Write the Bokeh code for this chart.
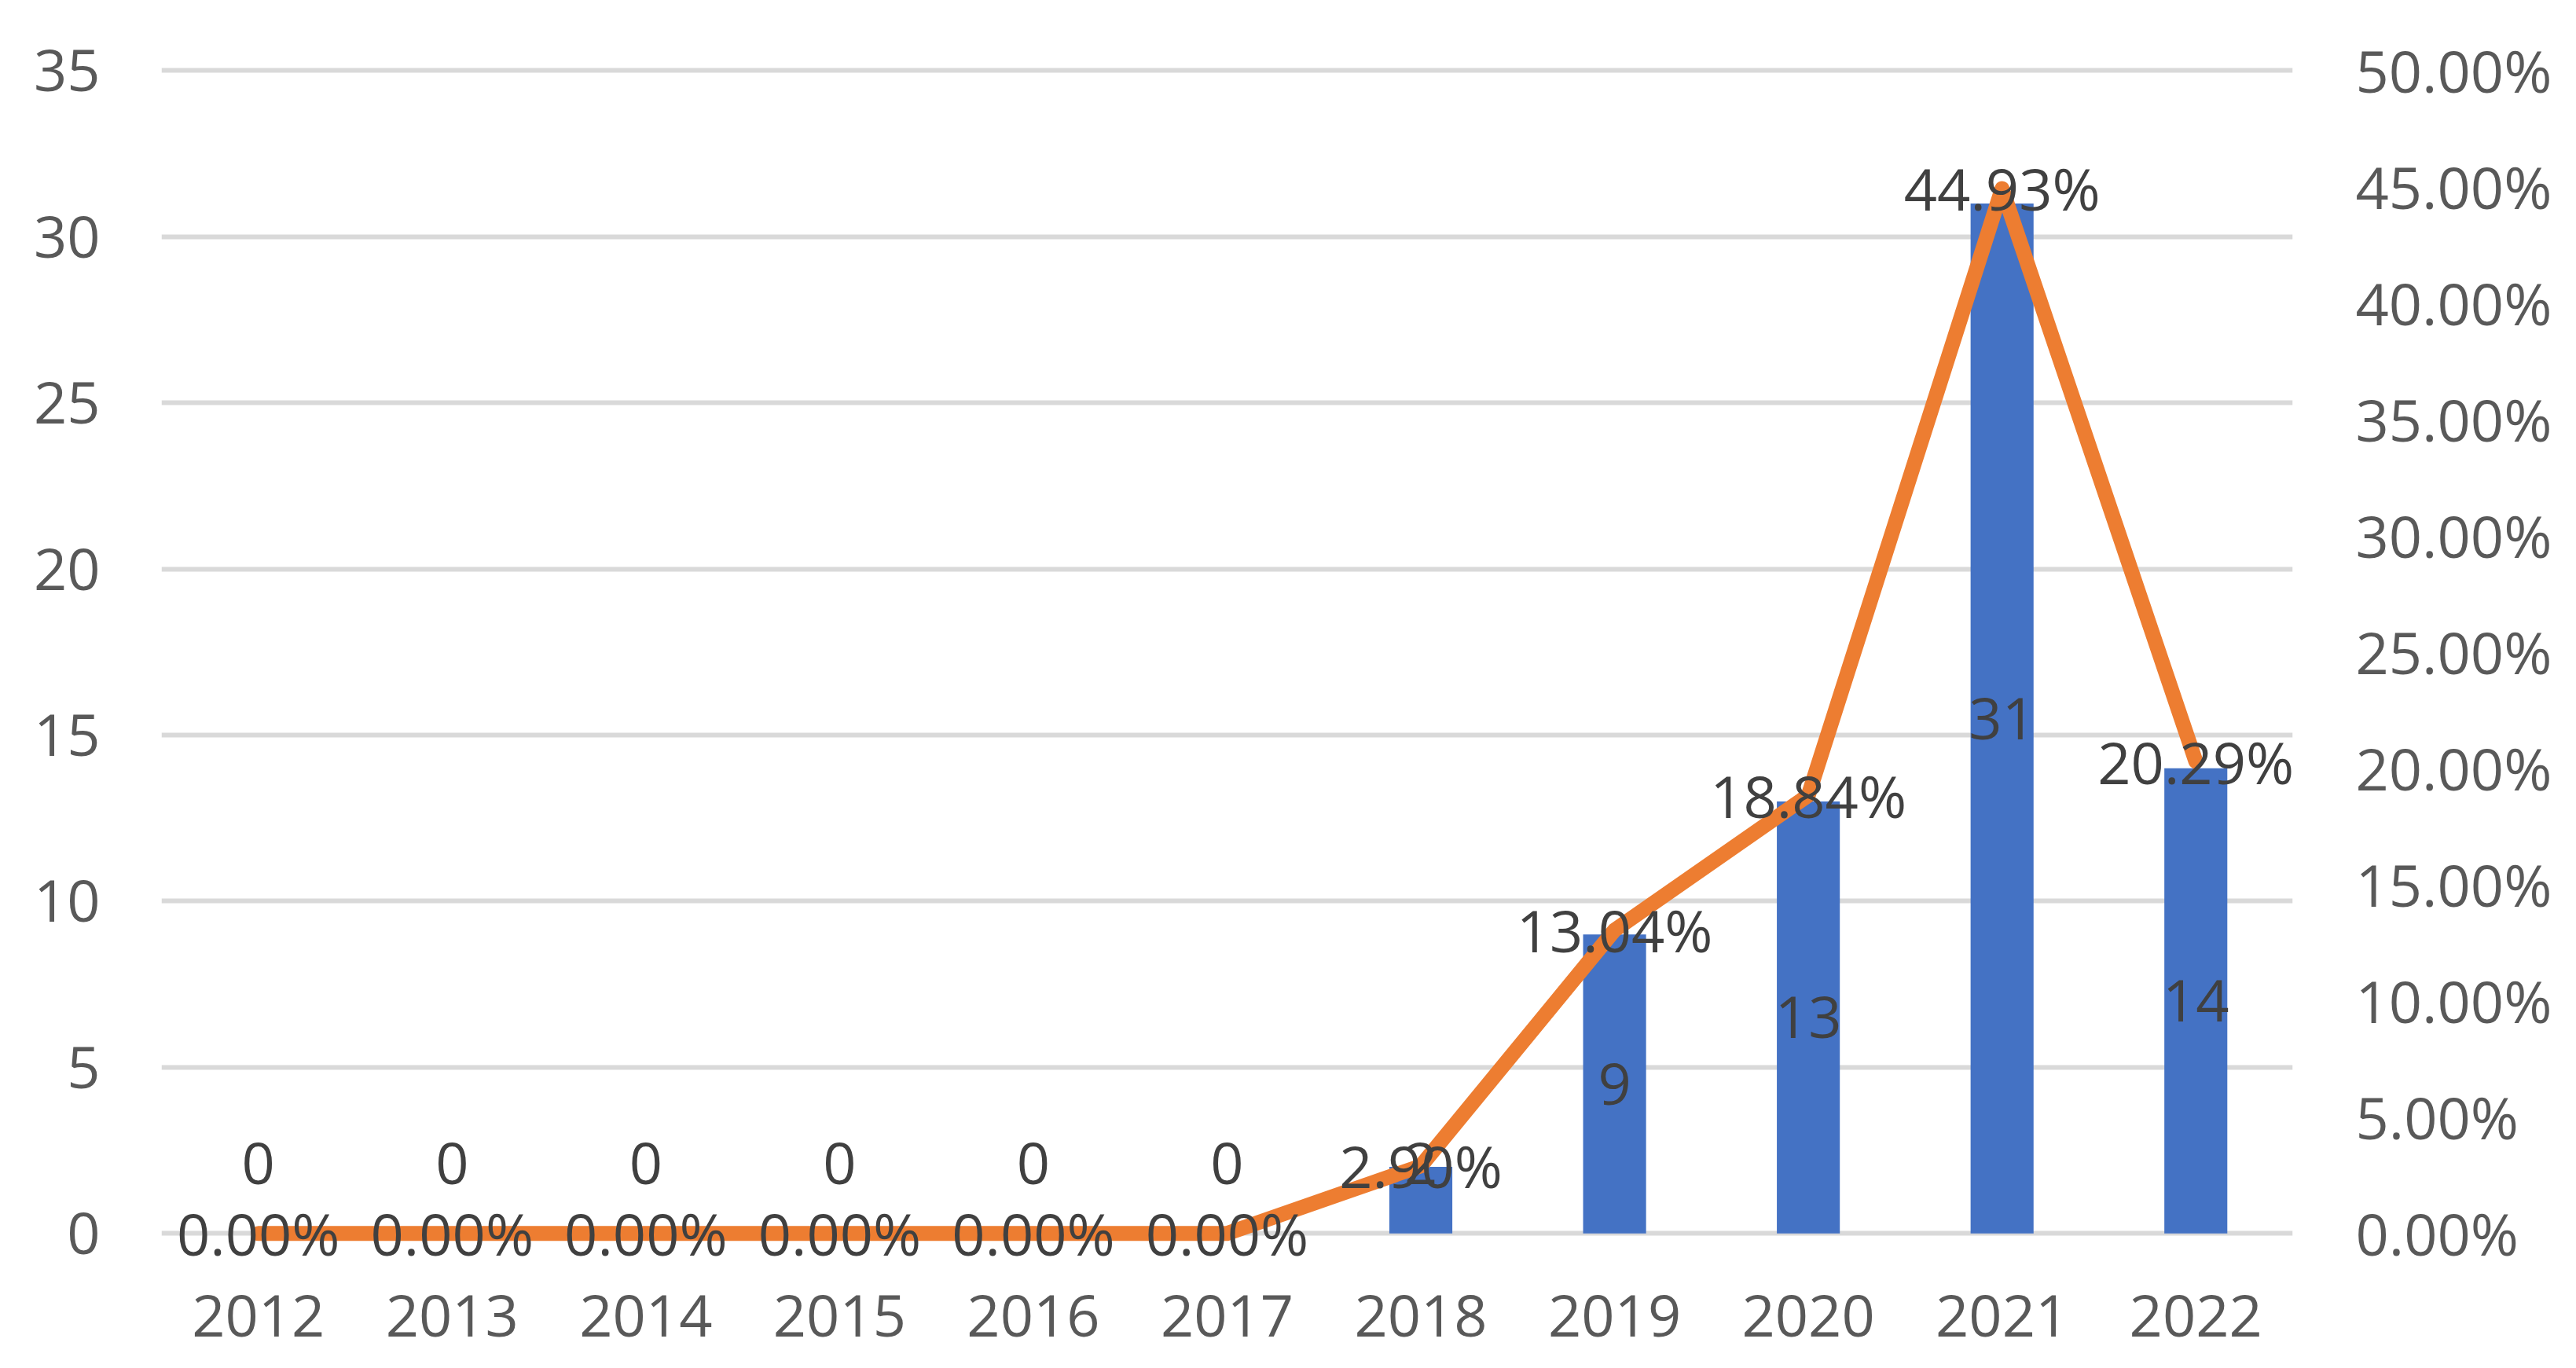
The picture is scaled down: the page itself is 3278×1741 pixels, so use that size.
from bokeh.plotting import figure
from bokeh.models import (FactorRange, Range1d, LinearAxis, FixedTicker,
                          NumeralTickFormatter, ColumnDataSource)
from bokeh.core.properties import value
from bokeh.embed import file_html
from bokeh.resources import INLINE

years = ["2012", "2013", "2014", "2015", "2016", "2017",
         "2018", "2019", "2020", "2021", "2022"]
counts = [0, 0, 0, 0, 0, 0, 2, 9, 13, 31, 14]
shares = [0.0, 0.0, 0.0, 0.0, 0.0, 0.0, 0.029, 0.1304, 0.1884, 0.4493, 0.2029]
left_ticks = [0, 5, 10, 15, 20, 25, 30, 35]
right_ticks = [0.0, 0.05, 0.10, 0.15, 0.20, 0.25, 0.30, 0.35, 0.40, 0.45, 0.50]

FONT = "Open Sans"
FS = "74px"
BLUE = "#4472C4"
ORANGE = "#ED7D31"

Y0, Y1 = -0.8, 35.2
p = figure(x_range=FactorRange(*years), y_range=Range1d(Y0, Y1),
           width=3262, height=1725, output_backend="svg",
           toolbar_location=None, min_border_left=205, min_border_right=345,
           min_border_top=81, min_border_bottom=122)
p.extra_y_ranges = {"pct": Range1d(Y0 / 70.0, Y1 / 70.0)}
p.outline_line_color = None
p.background_fill_color = "white"
p.border_fill_color = "white"

# axes
p.yaxis.ticker = FixedTicker(ticks=left_ticks)
for ax in [p.xaxis[0], p.yaxis[0]]:
    ax.axis_line_color = None
    ax.major_tick_line_color = None
    ax.minor_tick_line_color = None
    ax.major_label_text_font = FONT
    ax.major_label_text_font_size = FS
    ax.major_label_text_color = "#595959"
p.yaxis.major_label_standoff = 72
p.xaxis.major_label_standoff = 38

rax = LinearAxis(y_range_name="pct", ticker=FixedTicker(ticks=right_ticks),
                 formatter=NumeralTickFormatter(format="0.00%"))
rax.axis_line_color = None
rax.major_tick_line_color = None
rax.minor_tick_line_color = None
rax.major_label_text_font = FONT
rax.major_label_text_font_size = FS
rax.major_label_text_color = "#595959"
rax.major_label_standoff = 74
p.add_layout(rax, "right")

p.xgrid.grid_line_color = None
p.ygrid.grid_line_color = "#D9D9D9"
p.ygrid.grid_line_width = 6

src = ColumnDataSource(dict(
    x=years, counts=counts, shares=shares,
    clabel=[str(c) for c in counts],
    cpos=[max(c / 2, 2.1) for c in counts],
    slabel=["%.2f%%" % (s * 100) for s in shares],
))

p.vbar(x="x", top="counts", bottom=0, width=0.325, source=src,
       fill_color=BLUE, line_color=None)
p.line(x="x", y="shares", source=src, y_range_name="pct", line_color=ORANGE,
       line_width=19, line_join="round", line_cap="round")

p.text(x="x", y="cpos", text="clabel", source=src, text_font=value(FONT),
       text_font_size=FS, text_color="#404040", text_align="center",
       text_baseline="middle")
p.text(x="x", y="shares", text="slabel", source=src, y_range_name="pct",
       text_font=value(FONT), text_font_size=FS, text_color="#404040",
       text_align="center", text_baseline="middle")

open("out.html", "w").write(file_html(p, INLINE))
